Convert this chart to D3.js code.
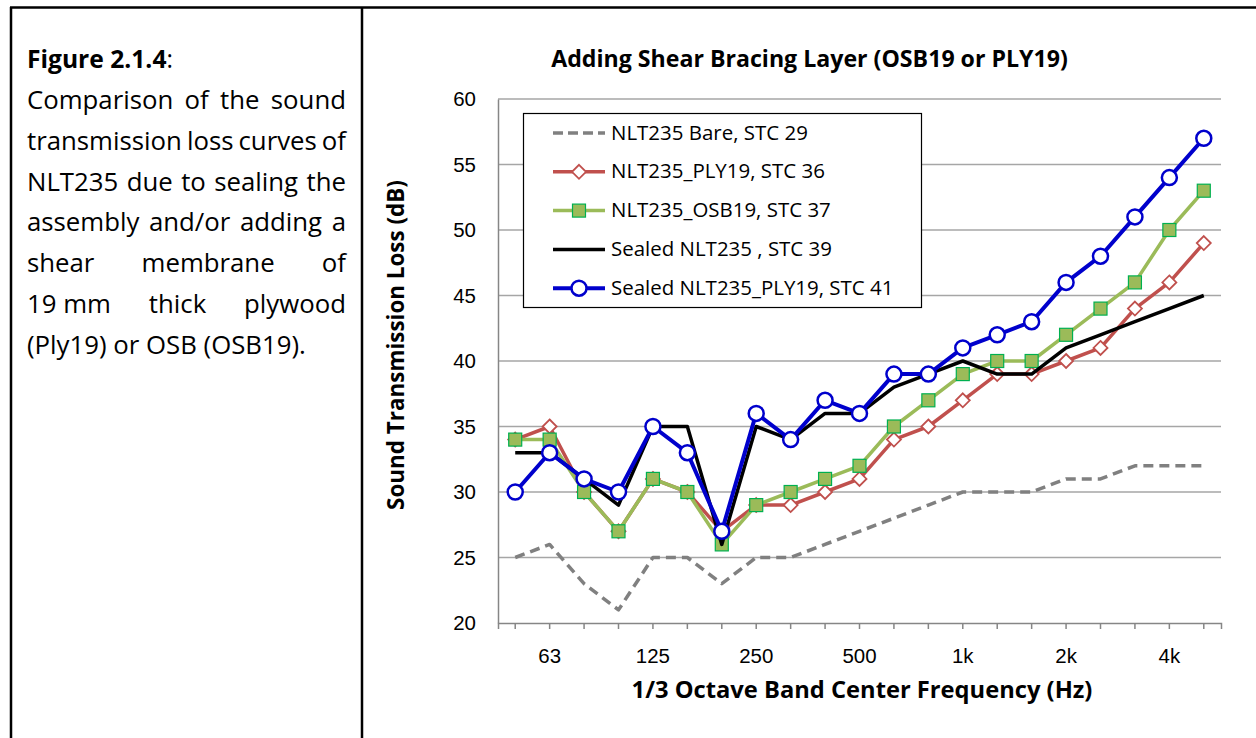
<!DOCTYPE html>
<html>
<head>
<meta charset="utf-8">
<script src="https://cdn.jsdelivr.net/npm/d3@7"></script>
<style>
  body { margin: 0; background: #fff; }
  svg { display: block; font-family: "Open Sans", Lato, sans-serif; }
</style>
</head>
<body>
<div class="container"></div>
<script>
const WIDTH = 1256;
const HEIGHT = 738;

// 1/3 octave bands, 50 Hz .. 5 kHz
const bands = ['50', '63', '80', '100', '125', '160', '200', '250', '315', '400', '500',
  '630', '800', '1000', '1250', '1600', '2000', '2500', '3150', '4000', '5000'];
const bandLabels = {'63': '63', '125': '125', '250': '250', '500': '500', '1000': '1k', '2000': '2k', '4000': '4k'};
const yTicks = [20, 25, 30, 35, 40, 45, 50, 55, 60];

const bare      = [25, 26, 23, 21, 25, 25, 23, 25, 25, 26, 27, 28, 29, 30, 30, 30, 31, 31, 32, 32, 32];
const ply19     = [34, 35, 30, 27, 31, 30, 27, 29, 29, 30, 31, 34, 35, 37, 39, 39, 40, 41, 44, 46, 49];
const osb19     = [34, 34, 30, 27, 31, 30, 26, 29, 30, 31, 32, 35, 37, 39, 40, 40, 42, 44, 46, 50, 53];
const sealed    = [33, 33, 31, 29, 35, 35, 26, 35, 34, 36, 36, 38, 39, 40, 39, 39, 41, 42, 43, 44, 45];
const sealedPly = [30, 33, 31, 30, 35, 33, 27, 36, 34, 37, 36, 39, 39, 41, 42, 43, 46, 48, 51, 54, 57];

const seriesNames = ['NLT235 Bare, STC 29', 'NLT235_PLY19, STC 36', 'NLT235_OSB19, STC 37',
  'Sealed NLT235 , STC 39', 'Sealed NLT235_PLY19, STC 41'];

const captionTitle = 'Figure 2.1.4';
const captionLines = [
  'Comparison of the sound',
  'transmission loss curves of',
  'NLT235 due to sealing the',
  'assembly and/or adding a',
  'shear membrane of',
  '19\u00a0mm thick plywood',
  '(Ply19) or OSB (OSB19).'
];

const styles = [
  {color: '#808080', width: 3.5, dash: '10,6', marker: null},
  {color: '#c0504d', width: 3.5, dash: null, marker: 'diamond'},
  {color: '#9bbb59', width: 3.5, dash: null, marker: 'square'},
  {color: '#000000', width: 3.5, dash: null, marker: null},
  {color: '#0000cc', width: 4, dash: null, marker: 'circle'}
];
const seriesData = [bare, ply19, osb19, sealed, sealedPly];

const margin = {left: 498, right: 1221, top: 99, bottom: 623};

const svg = d3.select('.container').append('svg')
  .attr('width', WIDTH)
  .attr('height', HEIGHT);

// scale a text's font size so it spans the given width (Calibri stand-in)
function fit(sel, width) {
  var size = +sel.attr('font-size');
  var w = sel.node().getComputedTextLength();
  sel.attr('font-size', size * width / w);
  return sel;
}

// table frame
svg.append('line').attr('x1', 10).attr('x2', WIDTH).attr('y1', 7.5).attr('y2', 7.5)
  .attr('stroke', '#000').attr('stroke-width', 2.5);
svg.append('line').attr('x1', 11).attr('x2', 11).attr('y1', 7).attr('y2', HEIGHT)
  .attr('stroke', '#000').attr('stroke-width', 2.5);
svg.append('line').attr('x1', 362).attr('x2', 362).attr('y1', 7).attr('y2', HEIGHT)
  .attr('stroke', '#000').attr('stroke-width', 2.5);

// caption, justified
const capLeft = 27, capRight = 346;
const cap = svg.append('g').attr('fill', '#000');
const capTitle = cap.append('text').attr('x', capLeft).attr('y', 68).attr('font-size', 22);
capTitle.append('tspan').attr('font-weight', 'bold').text(captionTitle);
capTitle.append('tspan').text(':');
fit(capTitle, 146);

const probe = cap.append('text').attr('font-size', 22).text(captionLines[captionLines.length - 1]);
fit(probe, 279);
const capSize = +probe.attr('font-size');
probe.remove();

captionLines.forEach(function (line, i) {
  var y = 109 + i * 40.8;
  var words = line.split(' ');
  var last = i === captionLines.length - 1;
  var nodes = words.map(function (w) {
    return cap.append('text').attr('y', y).attr('font-size', capSize).text(w);
  });
  var widths = nodes.map(function (n) { return n.node().getComputedTextLength(); });
  var total = d3.sum(widths);
  var space = capSize * 0.26;
  var gap = last || words.length < 2 ? space : (capRight - capLeft - total) / (words.length - 1);
  var x = capLeft;
  nodes.forEach(function (n, j) {
    n.attr('x', x);
    x += widths[j] + gap;
  });
});

// scales
const x = d3.scaleBand().domain(bands).range([margin.left, margin.right]);
const y = d3.scaleLinear().domain([20, 60]).range([margin.bottom, margin.top]);
const cx = function (i) { return x(bands[i]) + x.bandwidth() / 2; };

// legend/tick font size, from the legend's first entry width
const probe2 = svg.append('text').attr('font-size', 17).text(seriesNames[0]);
fit(probe2, 197);
const labelSize = +probe2.attr('font-size');
probe2.remove();

// gridlines
svg.append('g').selectAll('line')
  .data(yTicks.slice(1))
  .enter().append('line')
  .attr('x1', margin.left).attr('x2', margin.right)
  .attr('y1', function (d) { return y(d); }).attr('y2', function (d) { return y(d); })
  .attr('stroke', '#a6a6a6').attr('stroke-width', 1.5);

// y axis
const yAxis = svg.append('g')
  .attr('transform', 'translate(' + margin.left + ',0)')
  .call(d3.axisLeft(y).tickValues(yTicks).tickSize(0).tickPadding(22));
yAxis.select('.domain').attr('stroke', '#868686').attr('stroke-width', 1.5);
yAxis.selectAll('text').attr('font-size', labelSize).attr('font-family', null).attr('fill', '#000');

// x axis
const xAxis = svg.append('g')
  .attr('transform', 'translate(0,' + margin.bottom + ')')
  .call(d3.axisBottom(x).tickSizeInner(6).tickSizeOuter(6).tickPadding(19)
    .tickFormat(function (d) { return bandLabels[d] || ''; }));
xAxis.select('.domain').attr('stroke', '#868686').attr('stroke-width', 1.5);
xAxis.selectAll('.tick line').attr('stroke', '#868686').attr('stroke-width', 1.5);
xAxis.selectAll('text').attr('font-size', labelSize).attr('font-family', null).attr('fill', '#000');

// titles
fit(svg.append('text').attr('x', 809.5).attr('y', 67).attr('text-anchor', 'middle')
  .attr('font-size', 19).attr('font-weight', 'bold')
  .text('Adding Shear Bracing Layer (OSB19 or PLY19)'), 517);
fit(svg.append('text').attr('x', 862).attr('y', 698).attr('text-anchor', 'middle')
  .attr('font-size', 20).attr('font-weight', 'bold')
  .text('1/3 Octave Band Center Frequency (Hz)'), 461);
fit(svg.append('text').attr('transform', 'translate(404,345) rotate(-90)').attr('text-anchor', 'middle')
  .attr('font-size', 19).attr('font-weight', 'bold')
  .text('Sound Transmission Loss (dB)'), 330);

// markers
function drawMarker(g, type, color, px, py) {
  if (type === 'diamond') {
    g.append('path')
      .attr('d', 'M' + px + ',' + (py - 7) + 'L' + (px + 7) + ',' + py + 'L' + px + ',' + (py + 7) + 'L' + (px - 7) + ',' + py + 'Z')
      .attr('fill', '#fff').attr('stroke', color).attr('stroke-width', 1.8);
  } else if (type === 'square') {
    g.append('rect').attr('x', px - 6.5).attr('y', py - 6.5).attr('width', 13).attr('height', 13)
      .attr('fill', '#9bbb59').attr('stroke', '#00b050').attr('stroke-width', 1.2);
  } else if (type === 'circle') {
    g.append('circle').attr('cx', px).attr('cy', py).attr('r', 7.5)
      .attr('fill', '#fff').attr('stroke', color).attr('stroke-width', 2.5);
  }
}

const line = d3.line()
  .x(function (d, i) { return cx(i); })
  .y(function (d) { return y(d); });

seriesData.forEach(function (data, k) {
  var s = styles[k];
  var g = svg.append('g');
  g.append('path').datum(data)
    .attr('d', line)
    .attr('fill', 'none')
    .attr('stroke', s.color)
    .attr('stroke-width', s.width)
    .attr('stroke-linejoin', 'round')
    .attr('stroke-dasharray', s.dash);
  if (s.marker) {
    data.forEach(function (v, i) { drawMarker(g, s.marker, s.color, cx(i), y(v)); });
  }
});

// legend
const legend = svg.append('g');
legend.append('rect').attr('x', 523.5).attr('y', 113.5).attr('width', 398).attr('height', 194)
  .attr('fill', '#fff').attr('stroke', '#000').attr('stroke-width', 1.2);
seriesNames.forEach(function (name, k) {
  var s = styles[k];
  var ly = 133 + k * 38.8;
  legend.append('line').attr('x1', 553).attr('x2', 605).attr('y1', ly).attr('y2', ly)
    .attr('stroke', s.color).attr('stroke-width', s.width)
    .attr('stroke-dasharray', s.dash ? '10,5' : null);
  if (s.marker) drawMarker(legend, s.marker, s.color, 579, ly);
  legend.append('text').attr('x', 611).attr('y', ly + 6.5).attr('font-size', labelSize).text(name);
});
</script>
</body>
</html>
